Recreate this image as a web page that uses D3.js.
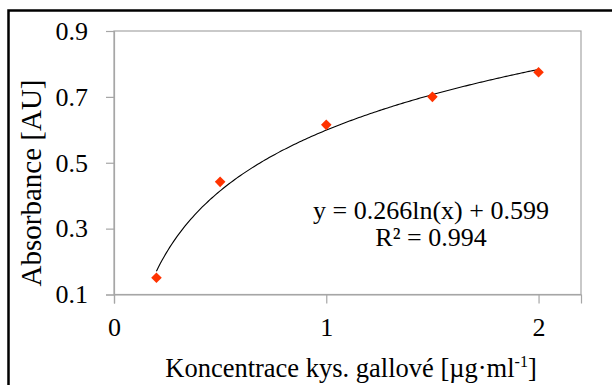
<!DOCTYPE html>
<html>
<head>
<meta charset="utf-8">
<script src="https://cdn.jsdelivr.net/npm/d3@7/dist/d3.min.js"></script>
<style>
  html, body { margin: 0; padding: 0; background: #fff; }
  svg { display: block; }
  text { font-family: "Liberation Serif", "Times New Roman", serif; fill: #000; }
</style>
</head>
<body>
<svg id="chart" width="612" height="385"></svg>
<script>
// Gallic acid calibration: concentration [µg/ml] vs absorbance [AU]
const concentrations = [0.2, 0.5, 1.0, 1.5, 2.0];
const absorbances = [0.151, 0.442, 0.615, 0.700, 0.775];
const xTicks = [0, 1, 2];
const yTicks = [0.1, 0.3, 0.5, 0.7, 0.9];
// Logarithmic trendline y = a·ln(x) + b
const trendCoef = [0.266, 0.599];
const trendRange = [0.2, 2.0];
const equationLines = ["y = 0.266ln(x) + 0.599", "R² = 0.994"];

const svg = d3.select("#chart");
const plotLeft = 114, plotRight = 581, plotTop = 31, plotBottom = 294.5;
const axisGrey = "#a6a6a6";

// outer frame
svg.append("rect")
  .attr("x", 8.5).attr("y", 10.5)
  .attr("width", 640).attr("height", 400)
  .attr("fill", "none").attr("stroke", "#000").attr("stroke-width", 2.5);

const x = d3.scaleLinear().domain([0, 2.2]).range([plotLeft, plotRight]);
const y = d3.scaleLinear().domain([0.1, 0.9]).range([plotBottom, plotTop]);

// plot area border
svg.append("rect")
  .attr("x", plotLeft).attr("y", plotTop)
  .attr("width", plotRight - plotLeft).attr("height", plotBottom - plotTop)
  .attr("fill", "none").attr("stroke", axisGrey).attr("stroke-width", 1.2);

const xAxis = svg.append("g")
  .attr("transform", `translate(0,${plotBottom})`)
  .call(d3.axisBottom(x).tickValues(xTicks).tickFormat(d3.format("d")).tickSize(9).tickPadding(14));
const yAxis = svg.append("g")
  .attr("transform", `translate(${plotLeft},0)`)
  .call(d3.axisLeft(y).tickValues(yTicks).tickFormat(d3.format(".1f")).tickSize(8).tickPadding(18));

[xAxis, yAxis].forEach(g => {
  g.select(".domain").attr("stroke", axisGrey).attr("stroke-width", 1.2);
  g.selectAll(".tick line").attr("stroke", axisGrey).attr("stroke-width", 1.2);
  g.selectAll(".tick text").attr("font-size", 26).attr("fill", "#000");
});

// trendline
const curvePts = d3.range(0, 201).map(i => {
  const cx = trendRange[0] + (trendRange[1] - trendRange[0]) * i / 200;
  return [cx, trendCoef[0] * Math.log(cx) + trendCoef[1]];
});
svg.append("path")
  .datum(curvePts)
  .attr("fill", "none").attr("stroke", "#000").attr("stroke-width", 1.1)
  .attr("d", d3.line().x(d => x(d[0])).y(d => y(d[1])));

// data markers (diamonds)
svg.append("g").selectAll("path")
  .data(concentrations.map((c, i) => [c, absorbances[i]]))
  .join("path")
  .attr("transform", d => `translate(${x(d[0])},${y(d[1])}) rotate(45)`)
  .attr("d", d3.symbol(d3.symbolSquare, 56))
  .attr("fill", "#ff3300");

// equation
svg.append("g").selectAll("text")
  .data(equationLines)
  .join("text")
  .attr("x", 431).attr("y", (d, i) => 219 + i * 27)
  .attr("text-anchor", "middle")
  .attr("font-size", 26)
  .text(d => d);

// axis titles
const xt = svg.append("text")
  .attr("x", 351).attr("y", 377)
  .attr("text-anchor", "middle")
  .attr("font-size", 26.5)
  .text("Koncentrace kys. gallové [µg·ml");
xt.append("tspan").attr("font-size", 16).attr("dy", -10).text("-1");
xt.append("tspan").attr("dy", 10).text("]");

svg.append("text")
  .attr("transform", "translate(41,183) rotate(-90)")
  .attr("text-anchor", "middle")
  .attr("font-size", 29)
  .text("Absorbance [AU]");
</script>
</body>
</html>
